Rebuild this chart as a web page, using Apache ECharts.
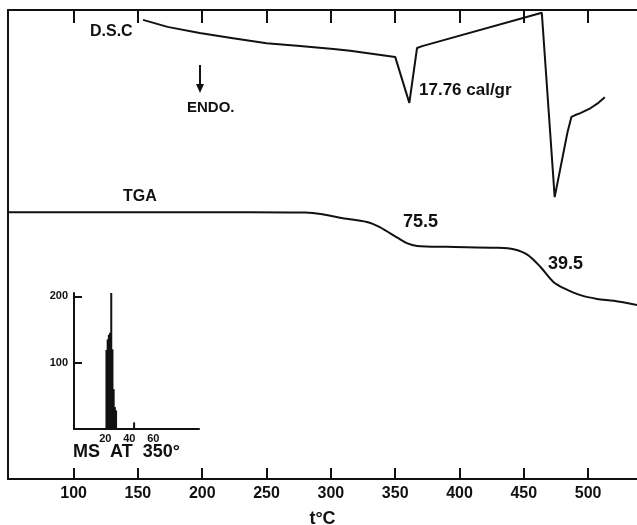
<!DOCTYPE html>
<html>
<head>
<meta charset="utf-8">
<script src="https://cdn.jsdelivr.net/npm/echarts@6/dist/echarts.min.js"></script>
<style>html,body{margin:0;padding:0;background:#fff}#c{width:637px;height:525px}</style>
</head>
<body>
<div id="c"></div>
<script>
// Temperature tick labels (°C)
var tempTicks = [100, 150, 200, 250, 300, 350, 400, 450, 500];
// DSC trace: temperature (°C) and signal (arbitrary units)
var dscT = [154, 173, 198, 224, 250, 276, 302, 315, 350, 361, 367, 371, 464, 474, 484, 487, 490, 494, 502, 508, 513];
var dscV = [97.9, 96.4, 95.1, 94.0, 92.9, 92.3, 91.7, 91.3, 90.0, 80.2, 91.9, 92.3, 99.4, 60.1, 74.0, 77.2, 77.6, 78.0, 79.1, 80.2, 81.4];
// TGA trace: temperature (°C) and signal (arbitrary units)
var tgaT = [49, 237, 280, 292, 307, 328, 338, 352, 359, 367, 390, 429, 442, 453, 463, 473, 481, 494, 507, 520, 538];
var tgaV = [56.9, 56.9, 56.8, 56.5, 55.7, 54.8, 53.7, 51.4, 50.3, 49.7, 49.5, 49.3, 49.0, 47.8, 45.2, 42.0, 40.7, 39.2, 38.4, 38.0, 37.1];
// Mass spectrum at 350°: m/z and intensity
var msMz = [21, 22, 23, 24, 25, 26, 27, 28, 29, 44];
var msInt = [119, 135, 142, 145, 205, 120, 60, 33, 28, 10];
var msXTicks = [20, 40, 60];
var msYTicks = [100, 200];

function zip(a, b) { return a.map(function (v, i) { return [v, b[i]]; }); }

var FONT = 'Liberation Sans';
var chart = echarts.init(document.getElementById('c'), null, { renderer: 'canvas' });
var ink = '#111';

var option = {
  backgroundColor: '#fff',
  animation: false,
  grid: [
    { left: 8, right: 0, top: 10, bottom: 46, containLabel: false, outerBoundsMode: 'none' },
    { left: 74, top: 293, width: 125, height: 136, containLabel: false, outerBoundsMode: 'none' }
  ],
  xAxis: [
    {
      gridIndex: 0, type: 'value', min: 49, max: 538, position: 'bottom',
      name: 't°C', nameLocation: 'middle', nameGap: 31,
      nameTextStyle: { fontFamily: FONT, fontWeight: 'bold', fontSize: 18, color: ink },
      axisLine: { show: true, onZero: false, lineStyle: { color: ink, width: 2 } },
      axisTick: { show: true, inside: true, length: 11, customValues: tempTicks, lineStyle: { color: ink, width: 2 } },
      axisLabel: { show: true, customValues: tempTicks, margin: 7, fontFamily: FONT, fontWeight: 'bold', fontSize: 16, color: ink },
      splitLine: { show: false }
    },
    {
      gridIndex: 0, type: 'value', min: 49, max: 538, position: 'top',
      axisLine: { show: true, onZero: false, lineStyle: { color: ink, width: 2 } },
      axisTick: { show: true, inside: true, length: 13, customValues: tempTicks, lineStyle: { color: ink, width: 2 } },
      axisLabel: { show: false },
      splitLine: { show: false }
    },
    {
      gridIndex: 1, type: 'value', min: -6, max: 98,
      axisLine: { show: true, onZero: false, lineStyle: { color: ink, width: 2 } },
      axisTick: { show: false },
      axisLabel: { show: true, customValues: msXTicks, margin: 4, fontFamily: FONT, fontWeight: 'bold', fontSize: 11, color: ink },
      splitLine: { show: false }
    }
  ],
  yAxis: [
    {
      gridIndex: 0, type: 'value', min: 0, max: 100,
      axisLine: { show: true, onZero: false, lineStyle: { color: ink, width: 2 } },
      axisTick: { show: false }, axisLabel: { show: false }, splitLine: { show: false }
    },
    {
      gridIndex: 1, type: 'value', min: 0, max: 205,
      axisLine: { show: true, onZero: false, lineStyle: { color: ink, width: 2 } },
      axisTick: { show: true, inside: true, length: 8, customValues: msYTicks, lineStyle: { color: ink, width: 2 } },
      axisLabel: { show: true, customValues: msYTicks, margin: 6, fontFamily: FONT, fontWeight: 'bold', fontSize: 11, color: ink },
      splitLine: { show: false }
    }
  ],
  series: [
    {
      name: 'DSC', type: 'line', xAxisIndex: 0, yAxisIndex: 0,
      data: zip(dscT, dscV), showSymbol: false, smooth: false,
      lineStyle: { color: ink, width: 2 }
    },
    {
      name: 'TGA', type: 'line', xAxisIndex: 0, yAxisIndex: 0,
      data: zip(tgaT, tgaV), showSymbol: false, smooth: 0.3,
      lineStyle: { color: ink, width: 2 }
    },
    {
      name: 'MS', type: 'bar', xAxisIndex: 2, yAxisIndex: 1,
      data: zip(msMz, msInt), barWidth: 2, barGap: '-100%',
      itemStyle: { color: ink }
    }
  ],
  graphic: [
    { type: 'text', left: 90, top: 24, style: { text: 'D.S.C', font: 'bold 16px ' + FONT, fill: ink } },
    { type: 'line', shape: { x1: 200, y1: 65, x2: 200, y2: 86 }, style: { stroke: ink, lineWidth: 2 } },
    { type: 'polygon', shape: { points: [[196, 84], [204, 84], [200, 93]] }, style: { fill: ink } },
    { type: 'text', left: 187, top: 100, style: { text: 'ENDO.', font: 'bold 15px ' + FONT, fill: ink } },
    { type: 'text', left: 419, top: 82, style: { text: '17.76 cal/gr', font: 'bold 17px ' + FONT, fill: ink } },
    { type: 'text', left: 123, top: 189, style: { text: 'TGA', font: 'bold 16px ' + FONT, fill: ink } },
    { type: 'text', left: 403, top: 213, style: { text: '75.5', font: 'bold 18px ' + FONT, fill: ink } },
    { type: 'text', left: 548, top: 255, style: { text: '39.5', font: 'bold 18px ' + FONT, fill: ink } },
    { type: 'text', left: 73, top: 443, style: { text: 'MS  AT  350°', font: 'bold 18px ' + FONT, fill: ink } }
  ]
};
chart.setOption(option);
</script>
</body>
</html>
